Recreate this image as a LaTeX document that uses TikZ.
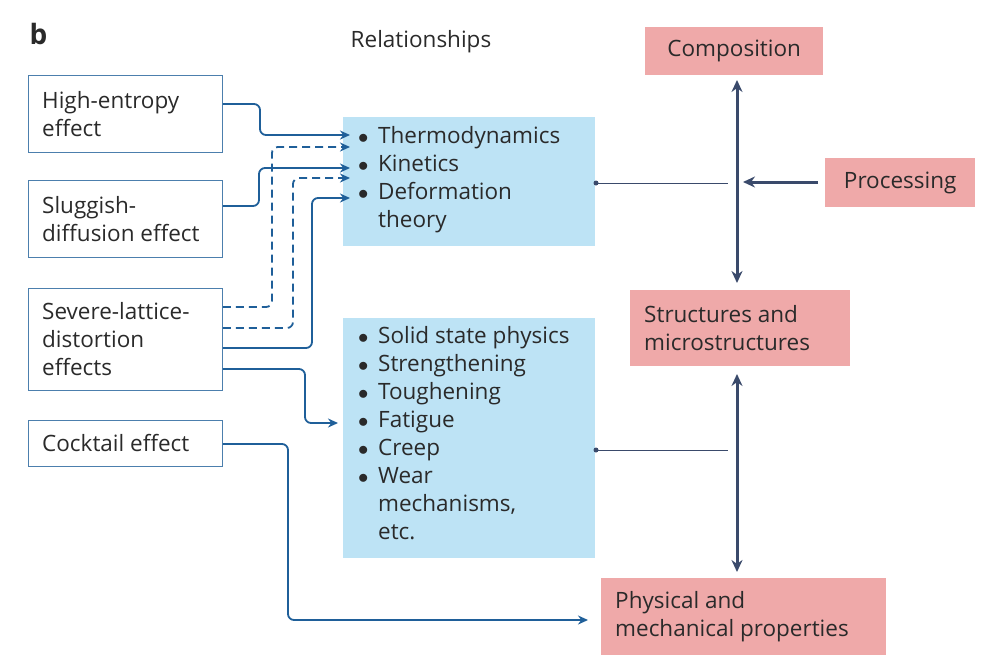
\documentclass[tikz,border=0pt]{standalone}
\usepackage{fontspec}
\setmainfont{Open Sans}
\usetikzlibrary{arrows.meta}
\definecolor{lb}{HTML}{BDE3F5}
\definecolor{pk}{HTML}{EFA9A9}
\definecolor{bl}{HTML}{1F5F99}
\definecolor{nv}{HTML}{3A4A6B}
\definecolor{tx}{HTML}{2A2A2A}
\begin{document}
\begin{tikzpicture}[x=1pt,y=-1pt,
 every node/.style={font=\fontsize{22.5}{28}\selectfont,text=tx},
 wb/.style={draw=bl!80,line width=0.8pt,anchor=north west,inner sep=0pt,align=left,text width=#1},
 bbox/.style={fill=lb,anchor=north west,inner sep=0pt},
 pbox/.style={fill=pk,anchor=north west,inner sep=0pt},
 con/.style={bl,line width=1.8pt,rounded corners=6pt,-{Stealth[length=10pt,width=9pt]}},
 dcon/.style={con,dash pattern=on 8pt off 5pt},
 thk/.style={nv,line width=3pt,{Stealth[length=12pt,width=11pt]}-{Stealth[length=12pt,width=11pt]}},
 thin/.style={nv,line width=0.7pt}]
\useasboundingbox (0,0) rectangle (989,665);
\node[anchor=north west,font=\fontsize{28}{30}\bfseries\selectfont] (b) at (26,20) {b};
\node (rel) at (421,42) {Relationships};
% left boxes
\node[wb=194pt,minimum height=77pt] (he) at (28,75) {};
\node[anchor=west,align=left,inner sep=0pt] (het) at ([xshift=14pt]he.west) {High-entropy\\effect};
\node[wb=194pt,minimum height=77pt] (sl) at (28,180) {};
\node[anchor=west,align=left,inner sep=0pt] (slt) at ([xshift=14pt]sl.west) {Sluggish-\\diffusion effect};
\node[wb=194pt,minimum height=102pt] (sv) at (28,288) {};
\node[anchor=west,align=left,inner sep=0pt] (svt) at ([xshift=14pt]sv.west) {Severe-lattice-\\distortion\\effects};
\node[wb=194pt,minimum height=46pt] (ck) at (28,420) {};
\node[anchor=west,align=left,inner sep=0pt] (ckt) at ([xshift=14pt]ck.west) {Cocktail effect};
% blue boxes
\node[bbox,minimum width=252pt,minimum height=129pt] (t1) at (343,117) {};
\node[anchor=north west,align=left,inner sep=0pt] (t1t) at (358,126) {$\bullet$\, Thermodynamics\\$\bullet$\, Kinetics\\$\bullet$\, Deformation\\\phantom{$\bullet$\, }theory};
\node[bbox,minimum width=252pt,minimum height=240pt] (t2) at (343,318) {};
\node[anchor=north west,align=left,inner sep=0pt] (t2t) at (358,326) {$\bullet$\, Solid state physics\\$\bullet$\, Strengthening\\$\bullet$\, Toughening\\$\bullet$\, Fatigue\\$\bullet$\, Creep\\$\bullet$\, Wear\\\phantom{$\bullet$\, }mechanisms,\\\phantom{$\bullet$\, }etc.};
% pink
\node[pbox,minimum width=178pt,minimum height=48pt] (co) at (645,27) {};
\node at (co.center) {Composition};
\node[pbox,minimum width=150pt,minimum height=49pt] (pr) at (825,158) {};
\node at (pr.center) {Processing};
\node[pbox,minimum width=220pt,minimum height=76pt] (st) at (630,290) {};
\node[anchor=west,align=left,inner sep=0pt] at ([xshift=14pt]st.west) {Structures and\\microstructures};
\node[pbox,minimum width=285pt,minimum height=77pt] (ph) at (601,578) {};
\node[anchor=west,align=left,inner sep=0pt] at ([xshift=14pt]ph.west) {Physical and\\mechanical properties};
% coordinates
\coordinate (ca) at (737,80); \coordinate (cb) at (737,283);
\coordinate (cc) at (737,374); \coordinate (cd) at (737,572);
\coordinate (pe) at (743,182); \coordinate (ps) at (818,182);
\draw[thk] (ca) -- (cb);
\draw[thk] (cc) -- (cd);
\draw[nv,line width=3pt,-{Stealth[length=12pt,width=11pt]}] (ps) -- (pe);
\coordinate (j1) at (728,183); \coordinate (j2) at (728,450);
\coordinate (d1) at (596,183); \coordinate (d2) at (596,450);
\draw[thin] (d1) -- (j1); \fill[nv] (d1) circle (2.5pt);
\draw[thin] (d2) -- (j2); \fill[nv] (d2) circle (2.5pt);
% connectors
\draw[con] (he.east |- 0,104) -- (260,104) -- (260,135) -- (350,135);
\draw[dcon] (sv.east |- 0,307) -- (272,307) -- (272,147) -- (350,147);
\draw[con] (sl.east |- 0,206) -- (259,206) -- (259,168) -- (350,168);
\draw[dcon] (sv.east |- 0,328) -- (293,328) -- (293,178) -- (350,178);
\draw[con] (sv.east |- 0,348) -- (312,348) -- (312,198) -- (350,198);
\draw[con] (sv.east |- 0,369) -- (305,369) -- (305,423) -- (338,423);
\draw[con] (ck.east |- 0,444) -- (288,444) -- (288,620) -- (588,620);
\end{tikzpicture}
\end{document}
